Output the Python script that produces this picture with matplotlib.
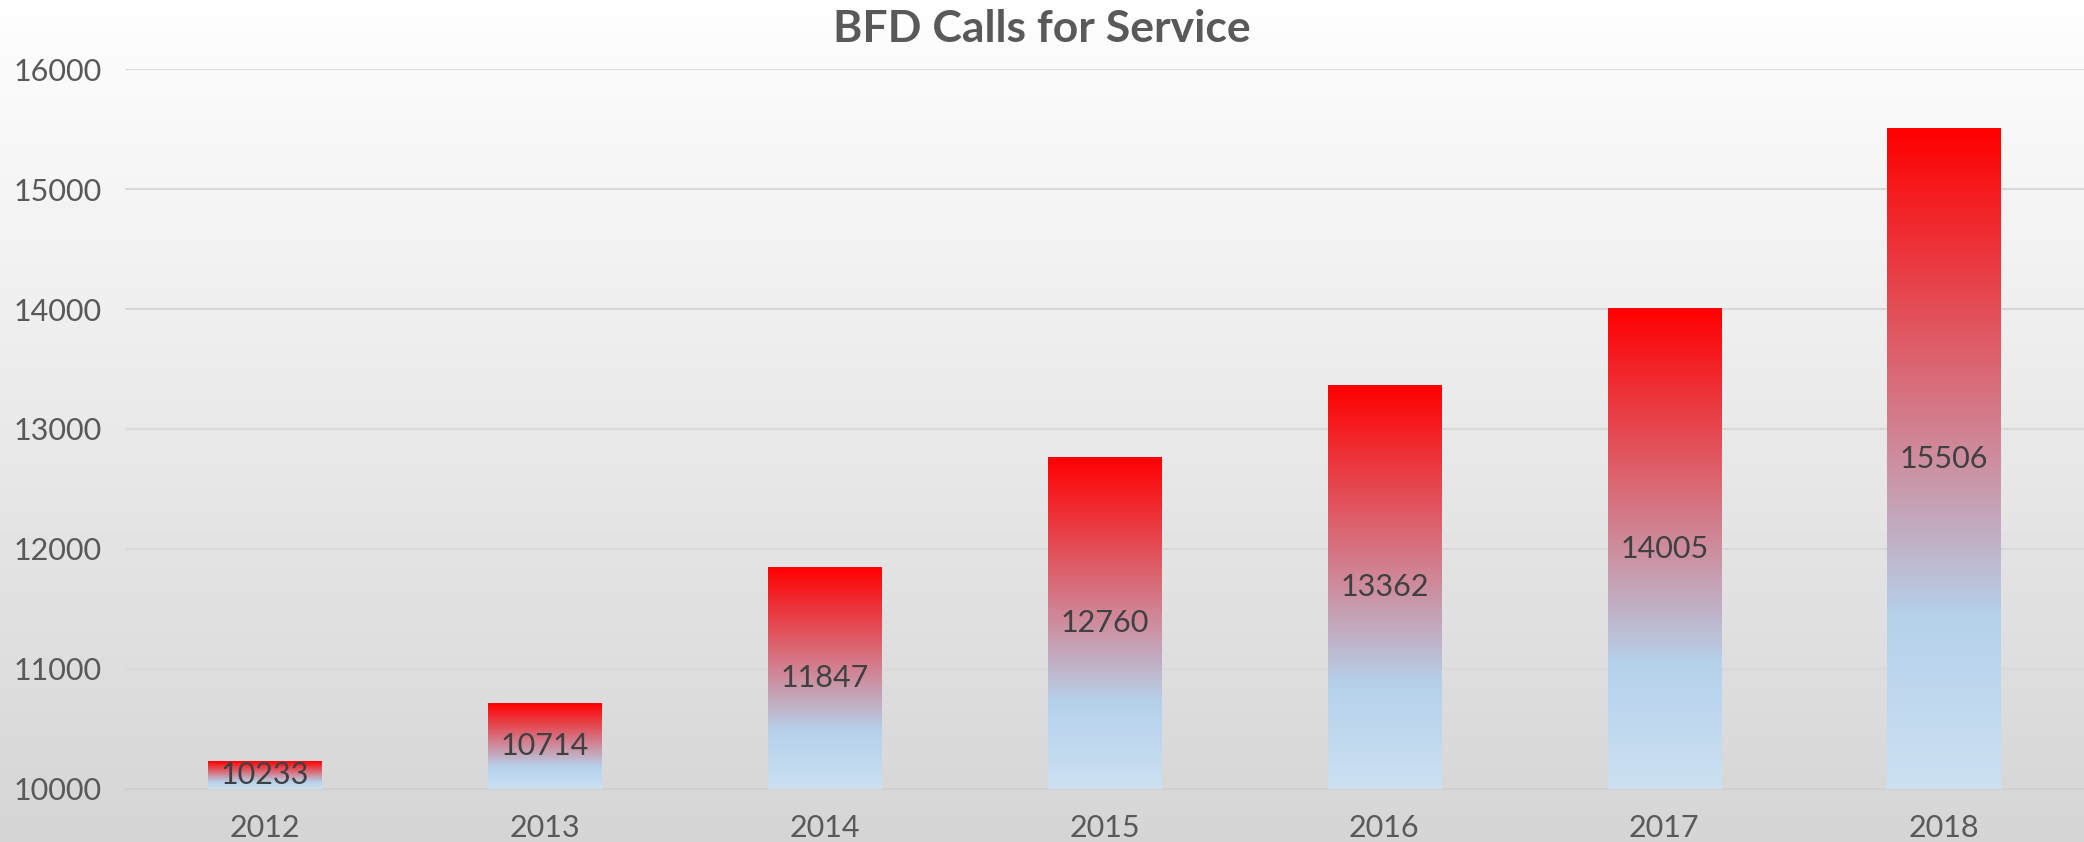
import matplotlib.pyplot as plt
import numpy as np
from matplotlib.colors import LinearSegmentedColormap

years = ['2012', '2013', '2014', '2015', '2016', '2017', '2018']
calls = [10233, 10714, 11847, 12760, 13362, 14005, 15506]
y_ticks = [10000, 11000, 12000, 13000, 14000, 15000, 16000]

plt.rcParams['font.family'] = ['Lato', 'DejaVu Sans']
txt = '#595959'

fig = plt.figure(figsize=(20.84, 8.42), dpi=100)

# fondo degradado de la figura
bg = fig.add_axes([0, 0, 1, 1], zorder=-10)
bg.imshow(np.linspace(0.995, 0.835, 256).reshape(-1, 1), cmap='gray', vmin=0, vmax=1,
          aspect='auto', extent=[0, 1, 0, 1])
bg.axis('off')

ax = fig.add_axes([0.06, 0.063, 0.94, 0.855])
ax.patch.set_alpha(0)

# degradado de las barras: abajo claro, azul, rojo arriba
bar_cmap = LinearSegmentedColormap.from_list('bfd', [
    (0.0, (0.80, 0.88, 0.95)),
    (0.26, (0.71, 0.82, 0.92)),
    (1.0, (1.0, 0.0, 0.0)),
])
grad = np.linspace(0, 1, 256).reshape(-1, 1)

x = np.arange(len(years))
bars = ax.bar(x, [c - y_ticks[0] for c in calls], bottom=y_ticks[0], width=0.405,
              color='none', zorder=3)
for b, c in zip(bars, calls):
    ax.imshow(grad, cmap=bar_cmap, aspect='auto', origin='lower', zorder=3,
              extent=[b.get_x(), b.get_x() + b.get_width(), y_ticks[0], c])
    ax.text(b.get_x() + b.get_width() / 2, (y_ticks[0] + c) / 2, str(c),
            ha='center', va='center', fontsize=22, color='#404040', zorder=4)

ax.set_xlim(-0.5, len(years) - 0.5)
ax.set_ylim(y_ticks[0], y_ticks[-1])
ax.set_yticks(y_ticks)
ax.set_xticks(x)
ax.set_xticklabels(years)
ax.yaxis.grid(True, color='#d9d9d9', linewidth=1.5, zorder=0)
ax.set_axisbelow(True)
for s in ['top', 'right', 'left']:
    ax.spines[s].set_visible(False)
ax.spines['bottom'].set_color('#d0d0d0')
ax.spines['bottom'].set_linewidth(1.5)
ax.tick_params(axis='both', length=0, labelsize=22, colors=txt)
ax.tick_params(axis='y', pad=17)
ax.tick_params(axis='x', pad=18)

fig.text(0.5, 0.966, 'BFD Calls for Service', ha='center', va='center',
         fontsize=32, fontweight='bold', color=txt)

fig.savefig('out.png', dpi=100)
